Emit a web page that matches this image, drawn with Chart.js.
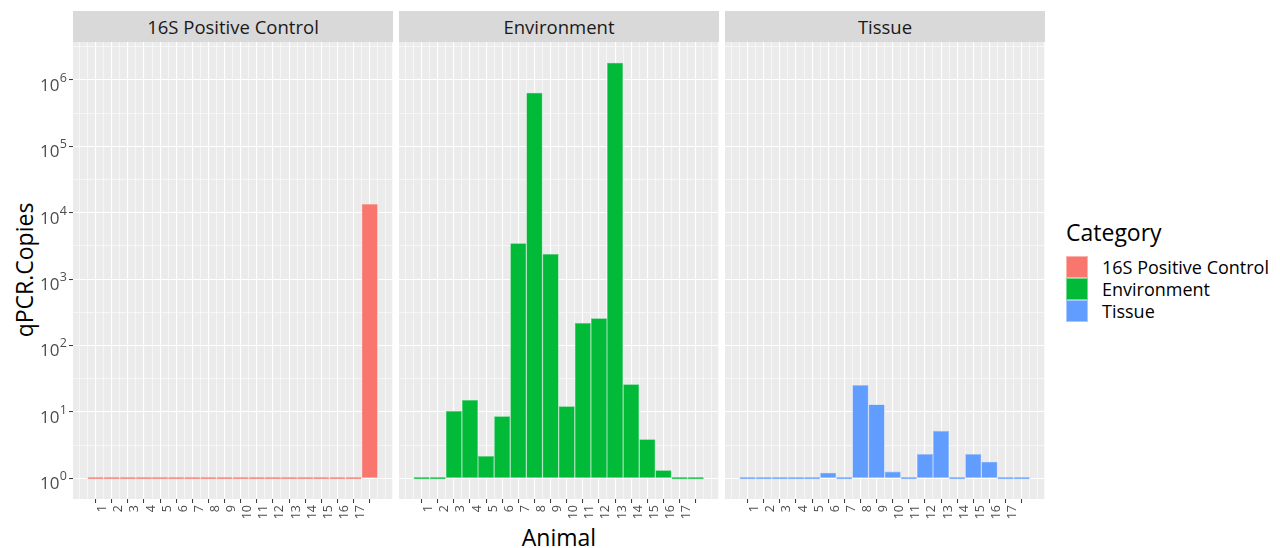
<!DOCTYPE html>
<html>
<head>
<meta charset="utf-8">
<script src="https://cdn.jsdelivr.net/npm/chart.js@4.4.1/dist/chart.umd.min.js"></script>
<style>
  html, body { margin: 0; padding: 0; background: #ffffff; }
  body { width: 1280px; height: 548px; position: relative; overflow: hidden; font-family: 'Open Sans', sans-serif; }
  canvas { position: absolute; top: 0; }
  .strip { position: absolute; top: 11px; height: 31px; background: #D9D9D9; color: #1A1A1A;
           font-size: 18.5px; line-height: 31px; text-align: center; white-space: nowrap; }
  .ytitle { position: absolute; left: 24px; top: 270px; transform: translate(-50%, -50%) rotate(-90deg);
            font-size: 23px; color: #000; white-space: nowrap; }
  .xtitle { position: absolute; left: 559px; top: 537px; transform: translate(-50%, -50%);
            font-size: 23px; color: #000; white-space: nowrap; }
  .legend { position: absolute; left: 1066px; top: 216px; }
  .legend .title { font-size: 23px; color: #000; line-height: 32px; margin-bottom: 8px; white-space: nowrap; }
  .legend .row { display: flex; align-items: center; height: 22px; }
  .legend .key { width: 22px; height: 22px; box-sizing: border-box; border: 0.5px solid rgba(255,255,255,0.45); }
  .legend .lab { margin-left: 14px; font-size: 18px; color: #000; white-space: nowrap; line-height: 22px; }
</style>
</head>
<body>
<div class="ytitle">qPCR.Copies</div>
<div class="xtitle">Animal</div>
<div class="legend" id="legend"></div>
<script>
// Animal positions along the x axis; the last position has no printed label
const animalLabels = ['1','2','3','4','5','6','7','8','9','10','11','12','13','14','15','16','17',''];
const facetNames = ['16S Positive Control', 'Environment', 'Tissue'];
const categoryColors = ['#F8766D', '#00BA38', '#619CFF'];

// qPCR copy numbers per animal
const controlCopies     = [1,1,1,1,1,1,1,1,1,1,1,1,1,1,1,1,1,13600];
const environmentCopies = [1,1,10.3,15.1,2.16,8.6,3470,645000,2400,12.1,219,257,1820000,26,3.85,1.32,1,1];
const tissueCopies      = [1,1,1,1,1,1.21,1,25.3,12.9,1.26,1,2.31,5.18,1,2.31,1.77,1,1];

// Decade exponents shown on the y axis
const yDecades = [0,1,2,3,4,5,6];

const facetSeries = [controlCopies, environmentCopies, tissueCopies];

Chart.defaults.font.family = "'Open Sans', sans-serif";
Chart.defaults.animation = false;

// shared log range: bars start at 10^0, range padded by 5% on each side
const maxCopies = Math.max(...controlCopies, ...environmentCopies, ...tissueCopies);
const logSpan = Math.log10(maxCopies);
const yMin = Math.pow(10, -0.05 * logSpan);
const yMax = Math.pow(10, logSpan * 1.05);
const nPos = animalLabels.length;
const xMin = 0.5 - 0.05 * nPos;
const xMax = nPos + 0.5 + 0.05 * nPos;

function lighten(hex, f) {
  const n = parseInt(hex.slice(1), 16);
  const r = (n >> 16) & 255, g = (n >> 8) & 255, b = n & 255;
  const m = c => Math.round(c + (255 - c) * f);
  return 'rgb(' + m(r) + ',' + m(g) + ',' + m(b) + ')';
}

const panelBg = {
  id: 'panelBg',
  beforeDraw(chart) {
    const a = chart.chartArea, ctx = chart.ctx;
    ctx.save();
    ctx.fillStyle = '#EBEBEB';
    ctx.fillRect(a.left, a.top, a.right - a.left, a.bottom - a.top);
    ctx.restore();
  }
};

// y labels written as 10 with a raised exponent
const decadeLabels = {
  id: 'decadeLabels',
  afterDraw(chart) {
    const ys = chart.scales.y, ctx = chart.ctx;
    ctx.save();
    ctx.fillStyle = '#4D4D4D';
    ctx.textBaseline = 'alphabetic';
    yDecades.forEach(k => {
      const py = ys.getPixelForValue(Math.pow(10, k));
      const right = ys.right - 6;
      ctx.font = "12.5px 'Open Sans', sans-serif";
      const ew = ctx.measureText(String(k)).width;
      ctx.textAlign = 'left';
      ctx.fillText(String(k), right - ew, py + 2);
      ctx.font = "17px 'Open Sans', sans-serif";
      ctx.textAlign = 'right';
      ctx.fillText('10', right - ew - 0.5, py + 11);
    });
    ctx.restore();
  }
};

const panelLeft = [73, 399, 725];
const panelWidth = 320;
const panelTop = 42;
const panelBottom = 499;
const H = 548;

const tickVal = c => (c && c.tick) ? c.tick.value : NaN;
const isMajorX = v => Number.isInteger(v) && v >= 1 && v <= nPos;
const isMajorY = v => v > 0 && Math.abs(Math.log10(v) - Math.round(Math.log10(v))) < 1e-6;

facetNames.forEach((name, i) => {
  const first = i === 0;
  const canvasLeft = first ? 0 : panelLeft[i] - 10;
  const canvasWidth = first ? panelLeft[i] + panelWidth + 10 : panelWidth + 20;

  const strip = document.createElement('div');
  strip.className = 'strip';
  strip.style.left = panelLeft[i] + 'px';
  strip.style.width = panelWidth + 'px';
  strip.textContent = name;
  document.body.appendChild(strip);

  const cv = document.createElement('canvas');
  cv.width = canvasWidth; cv.height = H;
  cv.style.left = canvasLeft + 'px';
  cv.style.width = canvasWidth + 'px'; cv.style.height = H + 'px';
  document.body.appendChild(cv);

  const points = facetSeries[i].map((v, j) => ({ x: j + 1, y: v }));

  new Chart(cv, {
    type: 'bar',
    data: {
      datasets: [{
        label: name,
        data: points,
        backgroundColor: categoryColors[i],
        borderColor: lighten(categoryColors[i], 0.35),
        borderWidth: 0.6,
        base: 1,
        minBarLength: 2,
        // grid ticks sit every half unit, so a bar spans two tick gaps
        barPercentage: 2,
        categoryPercentage: 1
      }]
    },
    options: {
      responsive: false,
      animation: false,
      layout: { padding: { left: first ? 0 : 10, right: 10, top: panelTop, bottom: 0 } },
      plugins: { legend: { display: false }, tooltip: { enabled: false } },
      scales: {
        x: {
          type: 'linear',
          offset: false,
          min: xMin, max: xMax,
          afterBuildTicks(scale) {
            const t = [];
            for (let v = 0; v <= nPos + 1; v += 0.5) t.push({ value: v });
            scale.ticks = t;
          },
          afterFit(scale) { scale.height = H - panelBottom; },
          border: { display: false },
          grid: {
            offset: false,
            color: '#FFFFFF',
            lineWidth: c => isMajorX(tickVal(c)) ? 1.1 : 0.55,
            drawTicks: true,
            tickLength: 4,
            tickWidth: 1,
            tickColor: c => isMajorX(tickVal(c)) ? '#333333' : 'rgba(0,0,0,0)'
          },
          ticks: {
            autoSkip: false,
            minRotation: 90, maxRotation: 90,
            padding: 2,
            labelOffset: 7,
            color: '#4D4D4D',
            font: { size: 12.5 },
            callback: v => isMajorX(v) ? animalLabels[v - 1] : ''
          }
        },
        y: {
          type: 'logarithmic',
          min: yMin, max: yMax,
          afterBuildTicks(scale) {
            const t = [];
            for (let k = 0; k <= 13; k++) {
              const v = Math.pow(10, k / 2);
              if (v <= yMax) t.push({ value: v });
            }
            scale.ticks = t;
          },
          afterFit(scale) { scale.width = first ? panelLeft[0] : 0; },
          border: { display: false },
          grid: {
            color: '#FFFFFF',
            lineWidth: c => isMajorY(tickVal(c)) ? 1.1 : 0.55,
            drawTicks: first,
            tickLength: 4,
            tickWidth: 1,
            tickColor: c => isMajorY(tickVal(c)) ? '#333333' : 'rgba(0,0,0,0)'
          },
          ticks: { display: false }
        }
      }
    },
    plugins: first ? [panelBg, decadeLabels] : [panelBg]
  });
});

// legend
const legend = document.getElementById('legend');
const title = document.createElement('div');
title.className = 'title';
title.textContent = 'Category';
legend.appendChild(title);
facetNames.forEach((name, i) => {
  const row = document.createElement('div');
  row.className = 'row';
  const key = document.createElement('div');
  key.className = 'key';
  key.style.background = categoryColors[i];
  const lab = document.createElement('div');
  lab.className = 'lab';
  lab.textContent = name;
  row.appendChild(key); row.appendChild(lab);
  legend.appendChild(row);
});
</script>
</body>
</html>
